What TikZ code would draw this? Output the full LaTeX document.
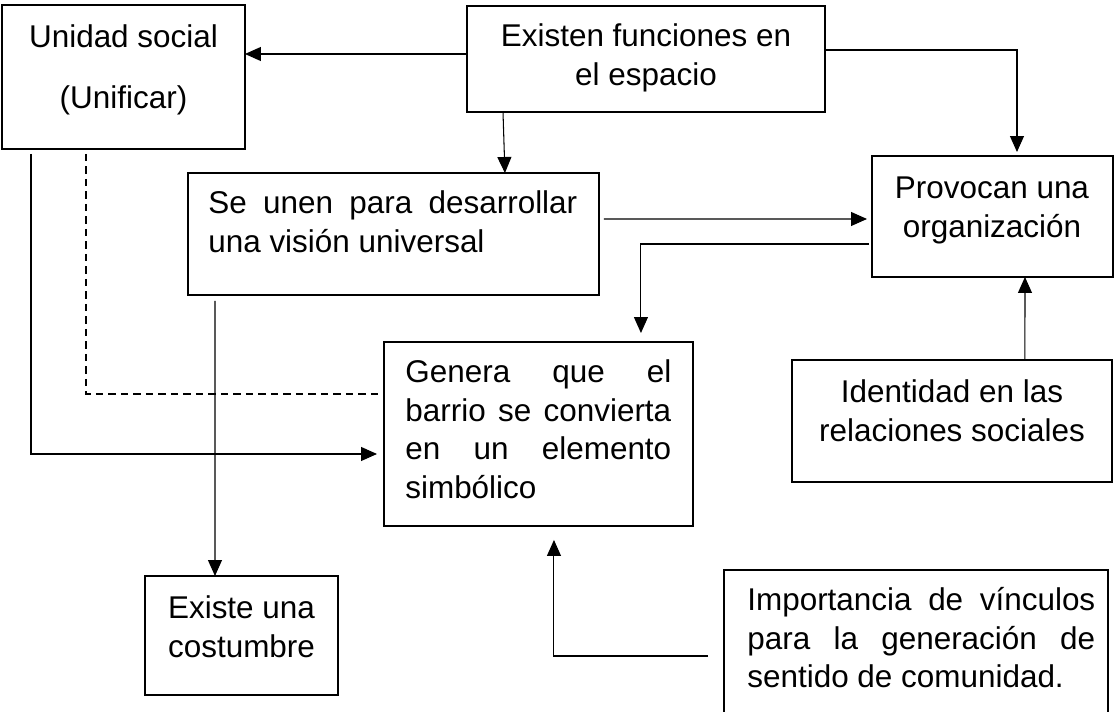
\documentclass[tikz,border=0pt]{standalone}
\usepackage{fontspec}
\setmainfont{Liberation Sans}
\usetikzlibrary{arrows.meta}
\tolerance=10000
\hyphenpenalty=10000
\hbadness=10000
\tikzstyle{frame} = [rectangle, draw=black, line width=1.1pt, anchor=north west, inner sep=0pt, outer sep=0pt]
\tikzstyle{boxtext} = [inner sep=0pt, font=\fontsize{17.9}{22}\selectfont]
\tikzstyle{fulltext} = [boxtext, anchor=north west, align=justify]
\tikzstyle{midtext} = [boxtext, anchor=north, align=center]
\tikzstyle{arrow} = [line width=0.6pt,->,>={Triangle[length=0.32cm,width=0.28cm]}]
\tikzstyle{dashline} = [line width=0.6pt, dash pattern=on 0.15cm off 0.1cm]

\begin{document}
\begin{tikzpicture}[x=0.02cm, y=-0.02cm]
    \useasboundingbox (0,0) rectangle (1116,711);
    \clip (0,0) rectangle (1116,711);
    % cajas
    \node (unidad) [frame, minimum width=4.86cm, minimum height=2.88cm] at (2,5) {};
    \node (existen) [frame, minimum width=7.16cm, minimum height=2.12cm] at (467,6) {};
    \node (seunen) [frame, minimum width=8.22cm, minimum height=2.44cm] at (188,173) {};
    \node (provocan) [frame, minimum width=4.82cm, minimum height=2.42cm] at (872,156) {};
    \node (genera) [frame, minimum width=6.18cm, minimum height=3.68cm] at (384,342) {};
    \node (identidad) [frame, minimum width=6.40cm, minimum height=2.44cm] at (792,360) {};
    \node (existe) [frame, minimum width=3.86cm, minimum height=2.38cm] at (145,576) {};
    \node (importancia) [frame, minimum width=7.68cm, minimum height=3.0cm] at (724,570) {};

    % textos
    \node (unidad-t) [midtext] at (123.5,20) {\strut Unidad social\\[0.44cm](Unificar)};
    \node (existen-t) [midtext] at (646,19) {\strut Existen funciones en\\el espacio};
    \node (seunen-t) [fulltext, text width=7.38cm] at (208,186) {\strut Se unen para desarrollar\linebreak una visión universal};
    \node (provocan-t) [midtext] at (992,171) {\strut Provocan una\\organización};
    \node (genera-t) [fulltext, text width=5.32cm] at (405,355) {\strut Genera que el\linebreak barrio se convierta\linebreak en un elemento\linebreak simbólico};
    \node (identidad-t) [midtext] at (952,375) {\strut Identidad en las\\relaciones sociales};
    \node (existe-t) [midtext] at (241.5,591) {\strut Existe una\\costumbre};
    \node (importancia-t) [fulltext, text width=6.96cm] at (747,583) {\strut Importancia de vínculos\linebreak para la generación de\linebreak sentido de comunidad.};

    % conectores
    \draw [arrow] ([yshift=0.1cm]existen.west) -- ([yshift=0.46cm]unidad.east);
    \draw [arrow] ([xshift=-2.86cm]existen.south) -- ([xshift=2.23cm]seunen.north);
    \draw [arrow, shorten >=0.08cm] ([yshift=0.18cm]existen.east) -| ([xshift=0.49cm]provocan.north);
    \draw [arrow, shorten <=0.1cm, shorten >=0.1cm] ([yshift=0.3cm]seunen.east) -- ([yshift=-0.05cm]provocan.west);
    \draw [arrow, shorten <=0.06cm, shorten >=0.18cm] ([yshift=-0.55cm]provocan.west) -| ([xshift=2.05cm]genera.north);
    \draw [arrow, shorten <=0.1cm, shorten >=0.14cm] ([xshift=-1.85cm]unidad.south) |- ([yshift=-0.4cm]genera.west);
    \draw [dashline, shorten <=0.1cm] ([xshift=-0.75cm]unidad.south) |- ([yshift=0.8cm]genera.west);
    \draw [arrow, shorten <=0.12cm] ([xshift=-3.57cm]seunen.south) -- ([xshift=-0.53cm]existe.north);
    \draw [arrow, shorten <=0.32cm, shorten >=0.28cm] ([yshift=-0.22cm]importancia.west) -| ([xshift=0.31cm]genera.south);
    \draw [arrow] ([xshift=1.46cm]identidad.north) -- ([xshift=0.65cm]provocan.south);
\end{tikzpicture}
\end{document}
